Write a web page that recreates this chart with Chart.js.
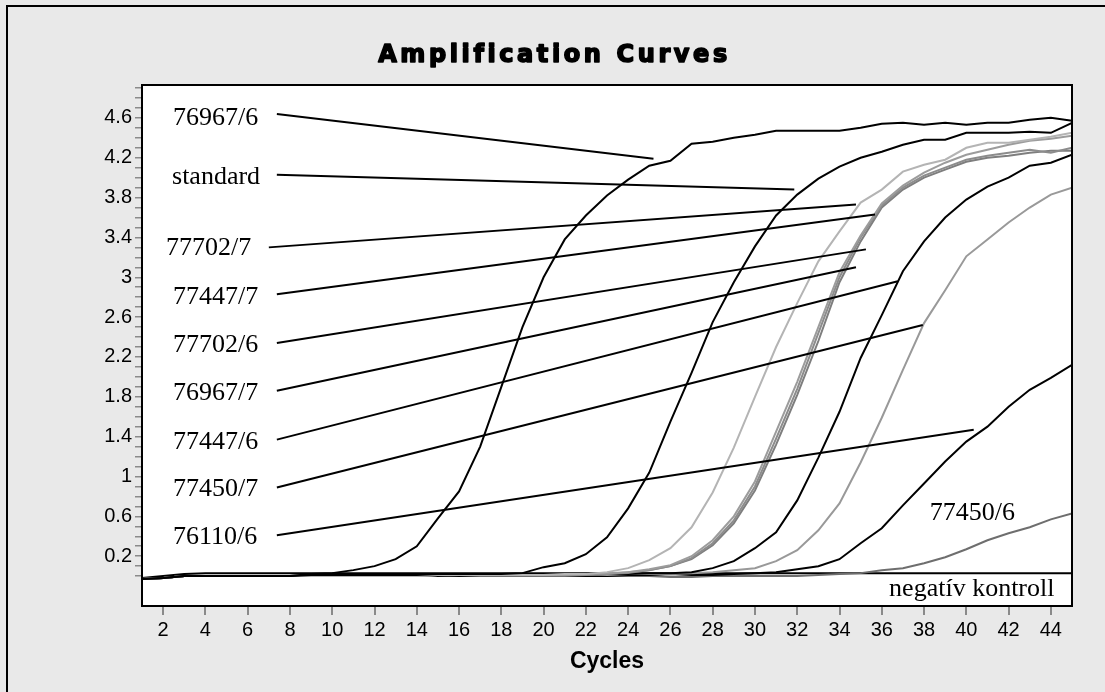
<!DOCTYPE html>
<html>
<head>
<meta charset="utf-8">
<script src="https://cdn.jsdelivr.net/npm/chart.js@4.4.1/dist/chart.umd.min.js"></script>
<style>
  html, body { margin: 0; padding: 0; background: #e9e9e9; }
  canvas { display: block; }
</style>
</head>
<body>
<canvas id="ampChart" width="1105" height="692"></canvas>
<script>
const titleText = 'Amplification Curves';
const cycles = [1,2,3,4,5,6,7,8,9,10,11,12,13,14,15,16,17,18,19,20,21,22,23,24,25,26,27,28,29,30,31,32,33,34,35,36,37,38,39,40,41,42,43,44,45];
const xTicks = [2,4,6,8,10,12,14,16,18,20,22,24,26,28,30,32,34,36,38,40,42,44];
const yTickLabels = [0.2,0.6,1,1.4,1.8,2.2,2.6,3,3.4,3.8,4.2,4.6];

// fluorescence per cycle
const s76967_6 = [-0.03,-0.02,0,0,0,0,0,0,0.02,0.03, 0.06,0.1,0.17,0.3,0.58,0.85,1.3,1.9,2.5,3.0, 3.38,3.62,3.82,3.98,4.12,4.17,4.34,4.36,4.4,4.43, 4.47,4.47,4.47,4.47,4.5,4.54,4.55,4.53,4.55,4.53, 4.55,4.55,4.58,4.6,4.57];
const sStandard = [-0.03,-0.02,0,0,0,0,0,0,0.01,0.01, 0.01,0.01,0.01,0.01,0.02,0.02,0.02,0.02,0.03,0.09, 0.13,0.22,0.39,0.68,1.04,1.55,2.04,2.55,2.95,3.31, 3.62,3.83,3.99,4.11,4.2,4.26,4.33,4.38,4.38,4.45, 4.45,4.45,4.46,4.45,4.55];
const s77702_7 = [-0.03,-0.02,0,0,0,0,0,0,0,0, 0,0,0,0,0.01,0.01,0.01,0.01,0.01,0.01, 0.02,0.02,0.04,0.08,0.16,0.28,0.49,0.84,1.29,1.8, 2.3,2.74,3.16,3.46,3.75,3.88,4.06,4.13,4.18,4.3, 4.35,4.35,4.38,4.41,4.45];
const s77447_7 = [-0.03,-0.02,0,0,0,0,0,0,0,0, 0,0,0,0,0.01,0.02,0.01,0.01,0.01,0.01, 0.01,0.02,0.03,0.04,0.07,0.11,0.2,0.36,0.6,0.95, 1.45,1.95,2.5,3.05,3.42,3.74,3.92,4.05,4.15,4.23, 4.28,4.33,4.37,4.39,4.42];
const s77702_6 = [-0.03,-0.02,0,0,0,0,0,0,0,0, 0,0,0,0,0.01,0.01,0.02,0.01,0.01,0.01, 0.01,0.01,0.02,0.04,0.06,0.1,0.18,0.33,0.56,0.9, 1.38,1.88,2.44,3.0,3.4,3.72,3.9,4.02,4.1,4.18, 4.22,4.25,4.28,4.25,4.3];
const s76967_7 = [-0.03,-0.02,0,0,0,0,0,0,0,0, 0,0,0,0,0.01,0.01,0.01,0.01,0.01,0.01, 0.01,0.01,0.02,0.03,0.06,0.1,0.17,0.31,0.53,0.86, 1.32,1.82,2.36,2.95,3.36,3.7,3.88,4.0,4.08,4.16, 4.2,4.22,4.25,4.27,4.27];
const s77447_6 = [-0.03,-0.02,0,0,0,0,0,0,0,0, 0,0,0,0,0,0.01,0.01,0.01,0.01,0.01, 0.01,0.01,0.02,0.02,0.03,0.03,0.04,0.08,0.15,0.28, 0.44,0.76,1.19,1.65,2.19,2.62,3.06,3.36,3.6,3.78, 3.91,4.0,4.12,4.15,4.23];
const s77450_7 = [-0.03,-0.02,0,0,0,0,0,0,0,0, 0,0,0,0,0,0.01,0.01,0.01,0.01,0.01, 0.01,0.01,0.01,0.02,0.02,0.02,0.03,0.04,0.06,0.08, 0.15,0.26,0.46,0.73,1.14,1.59,2.07,2.54,2.87,3.21, 3.38,3.55,3.7,3.83,3.9];
const s76110_6 = [-0.03,-0.02,0,0,0,0,0,0,0,0, 0,0,0,0,0,0,0.01,0.01,0.01,0.01, 0.01,0,0,0.01,0.01,0.02,0.01,0.01,0.02,0.03, 0.04,0.07,0.1,0.17,0.33,0.48,0.71,0.93,1.15,1.35, 1.5,1.7,1.87,1.99,2.12];
const s77450_6 = [-0.03,-0.02,0,0,0,0,0,0,0,0, 0,0,0,0,0,0,0,0,0,0, 0,0,0,0,0,-0.01,-0.01,0,0,0, 0,0,0.01,0.02,0.03,0.06,0.08,0.13,0.19,0.27, 0.36,0.43,0.49,0.57,0.63];
const sNegativ = [-0.02,0,0.02,0.03,0.03,0.03,0.03,0.03,0.03,0.03, 0.03,0.03,0.03,0.03,0.03,0.03,0.03,0.03,0.03,0.03, 0.03,0.03,0.03,0.03,0.03,0.03,0.03,0.03,0.03,0.03, 0.03,0.03,0.03,0.03,0.03,0.03,0.03,0.03,0.03,0.03, 0.03,0.03,0.03,0.03,0.03];

// callout labels and their leader lines, in (cycle, value) units
const calloutNames = ['76967/6','standard','77702/7','77447/7','77702/6','76967/7','77447/6','77450/7','76110/6'];
const calloutX = [2.47,2.42,2.14,2.47,2.47,2.47,2.47,2.47,2.47];
const calloutY = [4.6,4.0,3.29,2.8,2.32,1.84,1.34,0.87,0.39];
const leaderFrom = [[7.38,4.64],[7.38,4.03],[7.0,3.3],[7.38,2.83],[7.38,2.34],[7.38,1.86],[7.38,1.37],[7.38,0.89],[7.38,0.41]];
const leaderTo = [[25.2,4.19],[31.86,3.88],[34.78,3.73],[35.68,3.63],[35.25,3.28],[34.78,3.1],[36.76,2.96],[37.94,2.52],[40.35,1.47]];
const extraNames = ['77450/6','negatív kontroll'];
const extraX = [38.27,44.17];
const extraY = [0.63,-0.13];

const curves = [
  {label: '76967/6', data: s76967_6, color: '#000000'},
  {label: 'standard', data: sStandard, color: '#000000'},
  {label: '77702/7', data: s77702_7, color: '#b4b4b4'},
  {label: '77447/7', data: s77447_7, color: '#9c9c9c'},
  {label: '77702/6', data: s77702_6, color: '#8c8c8c'},
  {label: '76967/7', data: s76967_7, color: '#7e7e7e'},
  {label: '77447/6', data: s77447_6, color: '#000000'},
  {label: '77450/7', data: s77450_7, color: '#999999'},
  {label: '76110/6', data: s76110_6, color: '#000000'},
  {label: '77450/6', data: s77450_6, color: '#6e6e6e'},
  {label: 'negatív kontroll', data: sNegativ, color: '#000000'}
];

const datasets = [];
leaderFrom.forEach((p, i) => {
  datasets.push({
    data: [{x: p[0], y: p[1]}, {x: leaderTo[i][0], y: leaderTo[i][1]}],
    borderColor: '#000', borderWidth: 2, pointRadius: 0, tension: 0
  });
});
curves.forEach(c => {
  datasets.push({
    label: c.label, data: c.data, borderColor: c.color,
    borderWidth: 2, pointRadius: 0, tension: 0
  });
});

const decor = {
  id: 'decor',
  beforeDraw(chart) {
    const {ctx, chartArea: a, width, height} = chart;
    ctx.save();
    ctx.fillStyle = '#e9e9e9';
    ctx.fillRect(0, 0, width, height);
    ctx.strokeStyle = '#000';
    ctx.lineWidth = 2;
    ctx.beginPath();
    ctx.moveTo(7, height);
    ctx.lineTo(7, 6);
    ctx.lineTo(width, 6);
    ctx.stroke();
    ctx.fillStyle = '#fff';
    ctx.fillRect(a.left, a.top, a.right - a.left, a.bottom - a.top);
    ctx.restore();
  },
  afterDraw(chart) {
    const {ctx, chartArea: a, width} = chart;
    const xs = chart.scales.x, ys = chart.scales.y;
    ctx.save();
    ctx.strokeStyle = '#000';
    ctx.lineWidth = 2;
    ctx.strokeRect(a.left, a.top, a.right - a.left, a.bottom - a.top);

    ctx.fillStyle = '#000';
    ctx.font = '26px "Liberation Serif"';
    ctx.textBaseline = 'middle';
    ctx.textAlign = 'left';
    calloutNames.forEach((t, i) => {
      ctx.fillText(t, xs.getPixelForValue(calloutX[i]), ys.getPixelForValue(calloutY[i]));
    });
    ctx.fillText(extraNames[0], xs.getPixelForValue(extraX[0]), ys.getPixelForValue(extraY[0]));
    ctx.textAlign = 'right';
    ctx.fillText(extraNames[1], xs.getPixelForValue(extraX[1]), ys.getPixelForValue(extraY[1]));

    // title, heavy face
    ctx.font = 'bold 24px "DejaVu Sans"';
    ctx.letterSpacing = '3.6px';
    ctx.textAlign = 'center';
    ctx.textBaseline = 'alphabetic';
    ctx.lineWidth = 1.6;
    ctx.lineJoin = 'round';
    ctx.strokeText(titleText, width / 2 + 2, 62);
    ctx.fillText(titleText, width / 2 + 2, 62);
    ctx.restore();
  }
};

new Chart(document.getElementById('ampChart'), {
  type: 'line',
  data: { labels: cycles, datasets: datasets },
  options: {
    responsive: false,
    animation: false,
    devicePixelRatio: 1,
    layout: { padding: { left: 0, right: 33, top: 85, bottom: 0 } },
    plugins: { legend: { display: false }, tooltip: { enabled: false }, title: { display: false } },
    scales: {
      x: {
        type: 'linear', min: 1, max: 45,
        afterBuildTicks: s => { s.ticks = xTicks.map(v => ({value: v})); },
        afterFit: s => { s.height = 86; },
        border: { display: false },
        grid: { drawOnChartArea: false, drawTicks: true, tickLength: 9, color: '#8a8a8a', lineWidth: 2 },
        ticks: { autoSkip: false, maxRotation: 0, padding: 3, color: '#000', font: { family: 'Liberation Sans', size: 20 } },
        title: { display: true, text: 'Cycles', color: '#000', font: { family: 'Liberation Sans', size: 23, weight: 'bold' }, padding: { top: 0, bottom: 17 } }
      },
      y: {
        type: 'linear', min: -0.3, max: 4.93,
        afterBuildTicks: s => {
          const t = [];
          for (let i = 0; i <= 49; i++) t.push({value: i / 10});
          s.ticks = t;
        },
        afterFit: s => { s.width = 142; },
        border: { display: false },
        grid: { drawOnChartArea: false, drawTicks: true, tickLength: 7, color: '#8a8a8a', lineWidth: 1.5 },
        ticks: {
          autoSkip: false, padding: 3, color: '#000',
          font: { family: 'Liberation Sans', size: 20 },
          callback: v => {
            const r = Math.round(v * 10) / 10;
            return yTickLabels.includes(r) ? String(r) : '';
          }
        }
      }
    }
  },
  plugins: [decor]
});
</script>
</body>
</html>
